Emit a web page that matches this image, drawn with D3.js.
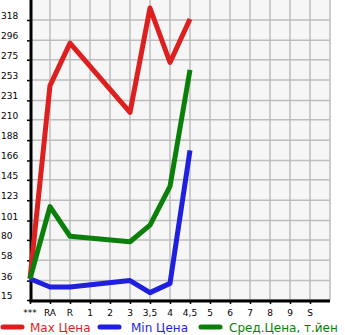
<!DOCTYPE html>
<html>
<head>
<meta charset="utf-8">
<script src="https://cdn.jsdelivr.net/npm/d3@7"></script>
<style>
  html, body { margin: 0; padding: 0; background: #ffffff; }
  svg { display: block; }
</style>
</head>
<body>
<div id="chart"></div>
<script>
// ---- data ----
const categories = ["***", "RA", "R", "1", "2", "3", "3,5", "4", "4,5", "5", "6", "7", "8", "9", "S"];
const yTicks = [15, 36, 58, 80, 101, 123, 145, 166, 188, 210, 231, 253, 275, 296, 318];
const maxPrice = [38, 247, 293, null, null, 218, 331, 272, 319, null, null, null, null, null, null];
const minPrice = [38, 29, 29, null, null, 36, 23, 33, 177, null, null, null, null, null, null];
const avgPrice = [38, 116, 84, null, null, 78, 96, 138, 264, null, null, null, null, null, null];
const seriesNames = ["Max Цена", "Min Цена", "Сред.Цена, т.йен"];
const seriesColors = ["#dd1f1f", "#1f1fdd", "#0a7f0a"];

const W = 345, H = 335;
const svg = d3.select("#chart").append("svg").attr("width", W).attr("height", H);

const x = d3.scalePoint().domain(categories).range([30, 310]);
const step = x.step();
const xRight = x(categories[categories.length - 1]) + step;
const y = d3.scaleLinear().domain([15, 318]).range([300, 20]);
const yTop = 0;

// plot background
svg.append("rect").attr("x", 30).attr("y", yTop).attr("width", xRight - 30).attr("height", 300 - yTop)
  .attr("fill", "#f6f6f6");

// grid
const grid = svg.append("g").attr("stroke", "#bdbdbd").attr("stroke-width", 1.5);
yTicks.forEach(v => {
  grid.append("line").attr("x1", 30).attr("x2", xRight).attr("y1", y(v)).attr("y2", y(v));
});
categories.slice(1).forEach(c => {
  grid.append("line").attr("x1", x(c)).attr("x2", x(c)).attr("y1", yTop).attr("y2", 300);
});
grid.append("line").attr("x1", xRight).attr("x2", xRight).attr("y1", yTop).attr("y2", 300);

// axes
const yAxis = d3.axisLeft(y).tickValues(yTicks).tickSize(4).tickFormat("");
const gy = svg.append("g").attr("transform", "translate(31,0)").call(yAxis);
gy.select(".domain").remove();
gy.selectAll(".tick line").attr("stroke", "#000").attr("stroke-width", 1.5);

const xAxis = d3.axisBottom(x).tickSize(3).tickFormat("");
const gx = svg.append("g").attr("transform", "translate(0,301)").call(xAxis);
gx.select(".domain").remove();
gx.selectAll(".tick line").attr("stroke", "#000").attr("stroke-width", 1.5);

svg.append("line").attr("x1", 31).attr("x2", 31).attr("y1", yTop).attr("y2", 302)
  .attr("stroke", "#000").attr("stroke-width", 3);
svg.append("line").attr("x1", 29.5).attr("x2", xRight).attr("y1", 301).attr("y2", 301)
  .attr("stroke", "#000").attr("stroke-width", 3);

// tick labels
const fontFam = "'DejaVu Sans', Verdana, sans-serif";
svg.append("g").selectAll("text").data(yTicks).join("text")
  .attr("x", 1).attr("y", d => y(d) - 1)
  .attr("font-family", fontFam).attr("font-size", 9).attr("fill", "#000")
  .text(d => d);
svg.append("g").selectAll("text").data(categories).join("text")
  .attr("x", d => x(d)).attr("y", 316)
  .attr("text-anchor", "middle")
  .attr("font-family", fontFam).attr("font-size", 9).attr("fill", "#000")
  .text(d => d);

// lines
const seriesData = [maxPrice, minPrice, avgPrice];
const line = d3.line()
  .x(d => x(d.c))
  .y(d => y(d.v));
seriesData.forEach((arr, i) => {
  const pts = categories.map((c, j) => ({ c, v: arr[j] })).filter(d => d.v != null);
  svg.append("path").datum(pts)
    .attr("d", line)
    .attr("fill", "none")
    .attr("stroke", seriesColors[i])
    .attr("stroke-width", 5)
    .attr("stroke-linejoin", "round");
});

// legend
const legendItems = [
  { mx: 3, tx: 30 },
  { mx: 100, tx: 131 },
  { mx: 201, tx: 229 }
];
legendItems.forEach((it, i) => {
  svg.append("line").attr("x1", it.mx).attr("x2", it.mx + 19).attr("y1", 327).attr("y2", 327)
    .attr("stroke", seriesColors[i]).attr("stroke-width", 5).attr("stroke-linecap", "round");
  svg.append("text").attr("x", it.tx).attr("y", 331.5)
    .attr("font-family", fontFam).attr("font-size", 12).attr("fill", seriesColors[i])
    .text(seriesNames[i]);
});
</script>
</body>
</html>
